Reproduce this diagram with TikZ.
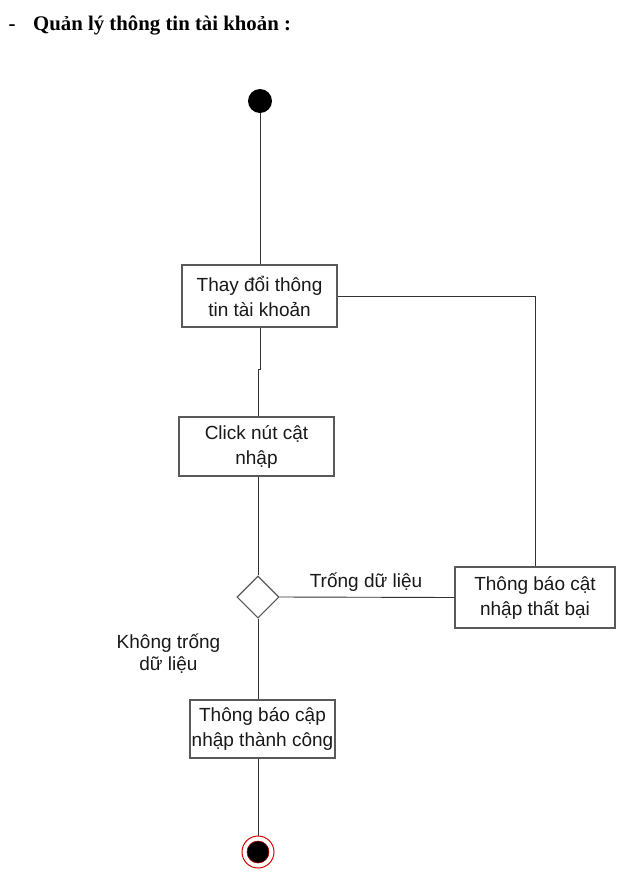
\documentclass[tikz,border=0pt]{standalone}
\usepackage{fontspec}
\setmainfont{Liberation Sans}
\newfontfamily\titlefont{Liberation Serif}
\usetikzlibrary{shapes.geometric}
\begin{document}
\begin{tikzpicture}[x=1pt,y=-1pt,
  act/.style={draw=black!65,line width=1.1pt,fill=white,inner sep=0pt,align=center,
    font=\fontsize{19}{25}\selectfont,text=black!90},
  conn/.style={draw=black!80,line width=0.9pt},
  lbl/.style={align=center,font=\fontsize{19}{22}\selectfont,text=black!90,inner sep=0pt}]
\useasboundingbox[fill=white] (0,0) rectangle (633,892);
\node[anchor=base,font=\titlefont\bfseries\fontsize{20.8}{24}\selectfont] (dash) at (12,30) {-};
\node[anchor=base west,inner sep=0pt,font=\titlefont\bfseries\fontsize{20.8}{24}\selectfont] (title) at (33,30) {Quản lý thông tin tài khoản :};
\node[circle,fill=black,minimum size=24pt,inner sep=0pt] (start) at (260,101) {};
\node[act,minimum width=155pt,minimum height=62pt] (b1) at (259.5,296) {Thay đổi thông\\tin tài khoản};
\node[act,minimum width=155pt,minimum height=59pt] (b2) at (256.5,446.5) {Click nút cật\\nhập};
\node[diamond,draw=black!65,line width=1.1pt,fill=white,minimum width=42pt,minimum height=42pt,inner sep=0pt] (dia) at (258,597) {};
\node[act,minimum width=160pt,minimum height=61pt] (b3) at (535,597.5) {Thông báo cật\\nhập thất bại};
\node[act,minimum width=145pt,minimum height=58pt] (b4) at (262.5,729) {Thông báo cập\\nhập thành công};
\node[circle,draw=red!85!black,line width=1pt,minimum size=32pt,inner sep=0pt] (endo) at (258,852) {};
\node[circle,fill=black,draw=red!70!black,line width=0.6pt,minimum size=22pt,inner sep=0pt] (endi) at (258,852) {};
\node[lbl,anchor=base] (l1) at (366,587) {Trống dữ liệu};
\node[lbl,anchor=base] (l2) at (168.5,670) {Không trống\\dữ liệu};
\coordinate (jog) at (260,369);
\draw[conn] (start) -- (start |- b1.north);
\draw[conn] (b1.south -| jog) -- (jog) -| (dia.north |- b2.north);
\draw[conn] (dia.north |- b2.south) -- (dia.north);
\draw[conn] (dia.east) -- (b3.west);
\draw[conn] (b3.north) |- (b1.east);
\draw[conn] (dia.south) -- (dia.south |- b4.north);
\draw[conn] (endo.north |- b4.south) -- (endo.north);
\end{tikzpicture}
\end{document}
